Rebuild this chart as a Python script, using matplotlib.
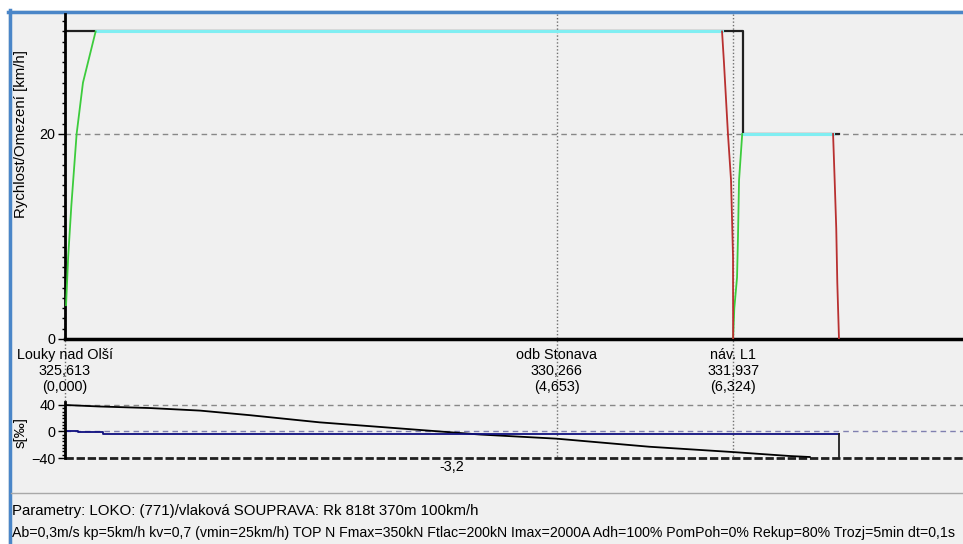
import matplotlib
matplotlib.use("Agg")
import matplotlib.pyplot as plt
from matplotlib.lines import Line2D
from matplotlib.patches import Rectangle
from matplotlib.transforms import blended_transform_factory
from matplotlib.ticker import MultipleLocator, FixedLocator

plt.rcParams['font.family'] = ['Liberation Sans', 'DejaVu Sans']

# speed limit (Omezeni) [km from start, km/h]
limit_km = [0.0, 6.42, 6.42, 7.326]
limit_v = [30, 30, 20, 20]

# speed profile pieces
acc1_km = [0.01, 0.03, 0.06, 0.11, 0.17, 0.29]
acc1_v = [3.3, 8, 13, 20, 25, 30]
run1_km = [0.29, 6.219]
run1_v = [30, 30]
brk1_km = [6.219, 6.237, 6.275, 6.304, 6.323, 6.324]
brk1_v = [30, 27, 20, 15.5, 8, 0]
acc2_km = [6.324, 6.335, 6.361, 6.37, 6.38, 6.41]
acc2_v = [0, 3, 6, 10, 15.5, 20]
run2_km = [6.41, 7.27]
run2_v = [20, 20]
brk2_km = [7.27, 7.285, 7.30, 7.31, 7.326]
brk2_v = [20, 15.5, 10.8, 5.5, 0]

# gradient panel
prof_km = [0, 0.33, 0.8, 1.28, 1.75, 2.22, 2.41, 3.93, 4.65, 5.53, 6.32, 6.86, 7.05]
prof_v = [40, 37.7, 35.4, 31.5, 24.6, 16.9, 13.8, -4.6, -10.8, -23, -31, -37, -38.5]
grad_km = [0, 0.12, 0.12, 0.36, 0.36, 7.326]
grad_v = [0, 0, -1.5, -1.5, -3.2, -3.2]
grad_label = "-3,2"

# stations
st_km = [0.0, 4.653, 6.324]
st_name = ["Louky nad Olší", "odb Stonava", "náv. L1"]
st_pos = ["325,613", "330,266", "331,937"]
st_rel = ["(0,000)", "(4,653)", "(6,324)"]

param1 = "Parametry: LOKO: (771)/vlaková SOUPRAVA: Rk 818t 370m 100km/h"
param2 = ("Ab=0,3m/s kp=5km/h kv=0,7 (vmin=25km/h) TOP N Fmax=350kN Ftlac=200kN "
          "Imax=2000A Adh=100% PomPoh=0% Rekup=80% Trozj=5min dt=0,1s")

W, H = 963, 544
fig = plt.figure(figsize=(W / 100, H / 100), dpi=100, facecolor='white')

def fx(x):
    return x / W

def fy(y):
    return 1 - y / H

bg = '#f0f0f0'
fig.patches.append(Rectangle((fx(8), 0), 1, fy(10), transform=fig.transFigure,
                             facecolor=bg, edgecolor='none', zorder=-5))
fig.add_artist(Line2D([fx(8), 1], [fy(11.5), fy(11.5)], color='#4a86c8', lw=2.5))
fig.add_artist(Line2D([fx(9.5), fx(9.5)], [fy(10), 0], color='#4a86c8', lw=2.5))
fig.add_artist(Line2D([fx(11), 1], [fy(493), fy(493)], color='#a8a8a8', lw=1))

xmax = (W - 65) / 105.65

# main speed axes
ax = fig.add_axes([fx(65), fy(339), fx(W - 65), (339 - 14) / H])
ax.set_zorder(3)
ax.set_facecolor('none')
ax.set_xlim(0, xmax)
ax.set_ylim(0, 31.7)
for s in ['top', 'right']:
    ax.spines[s].set_visible(False)
ax.spines['left'].set_linewidth(2)
ax.spines['bottom'].set_linewidth(2.5)
ax.set_xticks([])
ax.yaxis.set_major_locator(FixedLocator([0, 20]))
ax.yaxis.set_minor_locator(MultipleLocator(1))
ax.tick_params(axis='y', which='major', length=5, width=1, labelsize=10.4, pad=2)
ax.tick_params(axis='y', which='minor', length=2, width=1)
ax.axhline(20, color='#888888', lw=1, ls=(0, (4, 3)), zorder=1)
ax.set_ylabel("Rychlost/Omezení [km/h]", fontsize=10.8)
ax.yaxis.set_label_coords((28 - 65) / (W - 65), (339 - 134) / 325)

ax.plot(limit_km, limit_v, color='#202020', lw=1.6, zorder=2)
ax.plot(run1_km, run1_v, color='#80eef2', lw=2.2, zorder=3)
ax.plot(run2_km, run2_v, color='#80eef2', lw=2.2, zorder=3)
ax.plot(acc1_km, acc1_v, color='#3ccc3c', lw=1.3, zorder=4)
ax.plot(acc2_km, acc2_v, color='#3ccc3c', lw=1.3, zorder=4)
ax.plot(brk1_km, brk1_v, color='#b83030', lw=1.3, zorder=4)
ax.plot(brk2_km, brk2_v, color='#b83030', lw=1.3, zorder=4)

# gradient axes
ax2 = fig.add_axes([fx(65), fy(458), fx(W - 65), (458 - 402) / H])
ax2.set_zorder(3)
ax2.set_facecolor('none')
ax2.set_xlim(0, xmax)
ax2.set_ylim(-40, 44.5)
for s in ['top', 'right']:
    ax2.spines[s].set_visible(False)
ax2.spines['left'].set_linewidth(2)
ax2.spines['bottom'].set_visible(False)
ax2.set_xticks([])
ax2.yaxis.set_major_locator(FixedLocator([-40, 0, 40]))
ax2.yaxis.set_minor_locator(MultipleLocator(5))
ax2.tick_params(axis='y', which='major', length=5, width=1, labelsize=10.4, pad=2)
ax2.tick_params(axis='y', which='minor', length=2, width=1)
ax2.axhline(40, color='#888888', lw=1, ls=(0, (4, 3)))
ax2.axhline(0, color='#8080b0', lw=1, ls=(0, (4, 3)))
ax2.axhline(-40, color='#202020', lw=2, ls=(0, (3, 1)), clip_on=False)
ax2.set_ylabel("s[‰]", fontsize=10.8)
ax2.yaxis.set_label_coords((28 - 65) / (W - 65), (458 - 432) / 56)
ax2.plot(prof_km, prof_v, color='black', lw=1.3)
ax2.plot(grad_km, grad_v, color='#101080', lw=1.3)
ax2.plot([grad_km[-1], grad_km[-1]], [grad_v[-1], -40], color='#202020', lw=1.3)

tr = blended_transform_factory(ax.transData, fig.transFigure)
fig.text((grad_km[0] + grad_km[-1]) / 2, fy(467), grad_label, transform=tr,
         ha='center', va='center', fontsize=10.4)

# station markers and labels
for km, name, pos, rel in zip(st_km, st_name, st_pos, st_rel):
    fig.add_artist(Line2D([km, km], [fy(14), fy(458)], transform=tr,
                          color='#707070', lw=1, ls=(0, (1, 1.5)), zorder=1))
    for txt, yy in zip([name, pos, rel], [355, 371, 387]):
        fig.text(km, fy(yy), txt, transform=tr, ha='center', va='center',
                 fontsize=10.4, zorder=5)

# parameter lines, fitted to the footer width
fig.canvas.draw()
rend = fig.canvas.get_renderer()
for txt, yy, target in [(param1, 511, 468), (param2, 533, 948)]:
    t = fig.text(fx(12), fy(yy), txt, ha='left', va='center', fontsize=10)
    w = t.get_window_extent(rend).width
    t.set_fontsize(10 * target / w)

fig.savefig("out.png", dpi=100, facecolor=fig.get_facecolor())
